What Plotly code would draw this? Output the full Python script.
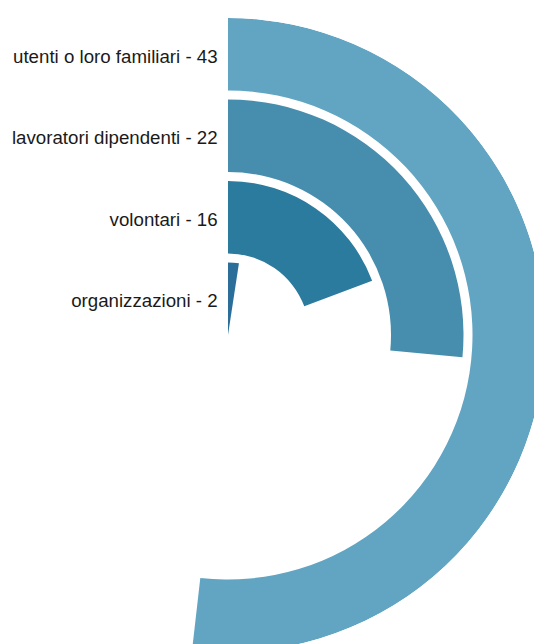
import math
import plotly.graph_objects as go

# ------------------------------------------------------------
# Radial bar chart — "chi partecipa"
# ------------------------------------------------------------

categories = ["organizzazioni", "volontari", "lavoratori dipendenti", "utenti o loro familiari"]
values = [2, 16, 22, 43]
colors = ["#2a6e99", "#2b7b9f", "#478eae", "#62a5c3"]

total = sum(values)

# ring geometry (radial units = pixels here)
ring_step = 81.5
ring_width = 72.5
r_outer = 317

# figure is a bit larger than the window: the outer arc is cut by the page edge
W, H = 560, 660
cx, cy = 228, 335          # centre of the rings, px from top-left of the page
sector = [-100, 90]        # only the part of the circle that is used
c = abs(math.cos(math.radians(sector[0])))  # left overhang of the sector bbox
x0 = cx - c * r_outer
x1 = cx + r_outer
y_top = cy - r_outer
y_bot = cy + r_outer

fig = go.Figure()

for i, (cat, val, col) in enumerate(zip(categories, values, colors)):
    span = val / total * 360
    fig.add_trace(go.Barpolar(
        r=[ring_width],
        base=[i * ring_step],
        theta=[span / 2],
        width=[span],
        marker=dict(color=col, line=dict(width=0)),
        name=cat,
        hoverinfo="name",
    ))

# labels on the left of the vertical start line
fig.add_trace(go.Scatterpolar(
    r=[i * ring_step + ring_width / 2 - 4 for i in range(len(categories))],
    theta=[0] * len(categories),
    mode="text",
    text=[f"{c_} - {v}  " for c_, v in zip(categories, values)],
    textposition="middle left",
    textfont=dict(family="Liberation Sans, Arial, sans-serif", size=18.7, color="#1a1a1a"),
    cliponaxis=False,
    hoverinfo="skip",
))

fig.update_layout(
    width=W,
    height=H,
    margin=dict(l=0, r=0, t=0, b=0),
    paper_bgcolor="white",
    showlegend=False,
    polar=dict(
        domain=dict(x=[x0 / W, x1 / W], y=[1 - y_bot / H, 1 - y_top / H]),
        sector=sector,
        bgcolor="white",
        radialaxis=dict(visible=False, range=[0, r_outer]),
        angularaxis=dict(visible=False, rotation=90, direction="clockwise"),
        bargap=0,
    ),
)

# page without margins or scrollbars: the chart simply runs off the edge
fig.write_html(
    "out.html",
    config={"displayModeBar": False},
    post_script="document.body.style.margin='0';"
                "document.documentElement.style.overflow='hidden';"
                "document.body.style.overflow='hidden';",
)
